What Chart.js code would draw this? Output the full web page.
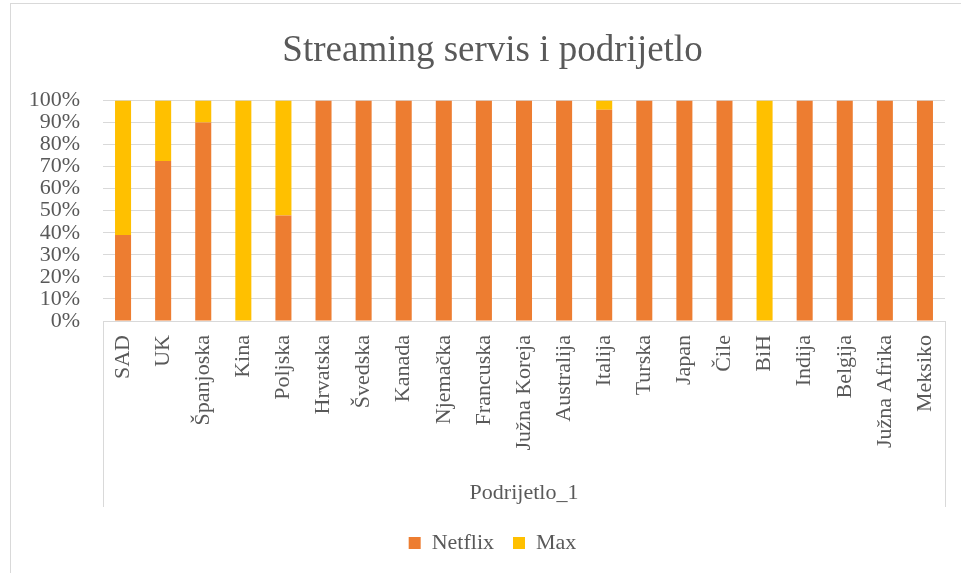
<!DOCTYPE html>
<html>
<head>
<meta charset="utf-8">
<script src="https://cdn.jsdelivr.net/npm/chart.js@4/dist/chart.umd.min.js"></script>
<style>
  html, body { margin: 0; padding: 0; background: #fff; overflow: hidden; }
  #wrap { width: 985px; height: 573px; }
</style>
</head>
<body>
<div id="wrap"><canvas id="myChart"></canvas></div>
<script>
// podaci
const drzave = ['SAD', 'UK', 'Španjoska', 'Kina', 'Poljska', 'Hrvatska', 'Švedska', 'Kanada', 'Njemačka', 'Francuska',
  'Južna Koreja', 'Australija', 'Italija', 'Turska', 'Japan', 'Čile', 'BiH', 'Indija', 'Belgija', 'Južna Afrika', 'Meksiko'];
const netflix = [39, 72.5, 90, 0, 47.8, 100, 100, 100, 100, 100, 100, 100, 95.8, 100, 100, 100, 0, 100, 100, 100, 100];
const max = [61, 27.5, 10, 100, 52.2, 0, 0, 0, 0, 0, 0, 0, 4.2, 0, 0, 0, 100, 0, 0, 0, 0];
const yTicks = [0, 10, 20, 30, 40, 50, 60, 70, 80, 90, 100];

const font = '"Liberation Serif", "Times New Roman", serif';
const siva = '#595959';
Chart.defaults.font.family = font;

// okvir grafikona i okvir kategorija (kao u Excelu)
const okvir = {
  id: 'okvir',
  afterDraw(c) {
    const ctx = c.ctx;
    const a = c.chartArea;
    ctx.save();
    ctx.strokeStyle = '#D9D9D9';
    ctx.lineWidth = 1;
    ctx.strokeRect(10.5, 3.5, 1000, 600);
    ctx.beginPath();
    ctx.moveTo(Math.round(a.left) + 0.5, a.bottom);
    ctx.lineTo(Math.round(a.left) + 0.5, a.bottom + 186);
    ctx.moveTo(Math.round(a.right) + 0.5, a.bottom);
    ctx.lineTo(Math.round(a.right) + 0.5, a.bottom + 186);
    ctx.stroke();
    ctx.restore();
  }
};

let chart = new Chart('myChart', {
  type: 'bar',
  data: {
    labels: drzave,
    datasets: [
      { label: 'Netflix', data: netflix, backgroundColor: '#ED7D31', barPercentage: 0.4, categoryPercentage: 1 },
      { label: 'Max', data: max, backgroundColor: '#FFC000', barPercentage: 0.4, categoryPercentage: 1 }
    ]
  },
  options: {
    responsive: true,
    maintainAspectRatio: false,
    animation: false,
    layout: { padding: { left: 0, right: 0, top: 0, bottom: 9 } },
    plugins: {
      title: {
        display: true,
        text: 'Streaming servis i podrijetlo',
        color: siva,
        font: { family: font, size: 37, weight: 'normal' },
        padding: { top: 29, bottom: 27 }
      },
      legend: {
        position: 'bottom',
        labels: {
          color: siva,
          font: { family: font, size: 22 },
          boxWidth: 12,
          boxHeight: 12,
          padding: 19
        }
      },
      tooltip: { enabled: false }
    },
    scales: {
      x: {
        stacked: true,
        grid: { display: false },
        border: { display: false },
        ticks: {
          color: siva,
          font: { family: font, size: 22 },
          maxRotation: 90,
          minRotation: 90,
          autoSkip: false,
          padding: 6
        },
        title: {
          display: true,
          text: 'Podrijetlo_1',
          color: siva,
          font: { family: font, size: 22 },
          padding: { top: 7, bottom: 7 }
        },
        afterFit(s) { s.height = 192; }
      },
      y: {
        stacked: true,
        min: 0,
        max: 100,
        afterBuildTicks(s) { s.ticks = yTicks.map(v => ({ value: v })); },
        grid: { color: '#D9D9D9', drawTicks: false },
        border: { display: false },
        ticks: {
          color: siva,
          font: { family: font, size: 22 },
          autoSkip: false,
          padding: 23,
          callback: v => v + '%'
        },
        afterFit(s) { s.width = 103; }
      },
      // prazna desna os, samo da naslov i legenda budu centrirani kao u Excelu
      desno: {
        type: 'linear',
        axis: 'y',
        position: 'right',
        grid: { display: false },
        border: { display: false },
        ticks: { display: false },
        afterFit(s) { s.width = 40; }
      }
    }
  },
  plugins: [okvir]
});
</script>
</body>
</html>
